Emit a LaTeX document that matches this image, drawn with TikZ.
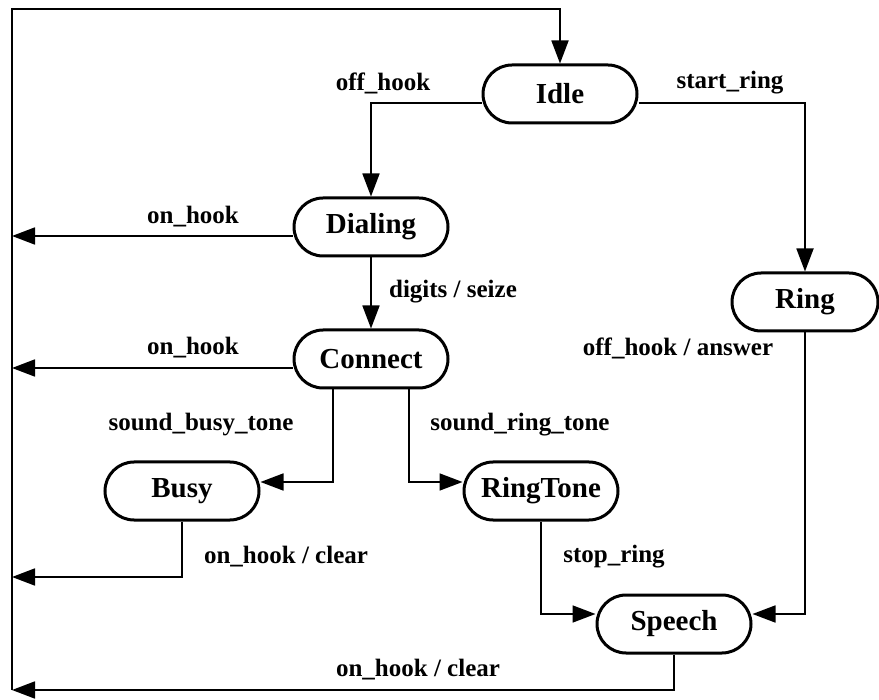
\documentclass[tikz,border=0pt]{standalone}
\usepackage{fontspec}
\setmainfont{Liberation Serif}
\usetikzlibrary{arrows.meta}
\tikzset{
  estado/.style={draw, line width=1.5pt, rounded corners=14.5pt, minimum width=77pt,
    minimum height=29pt, inner sep=0pt, font=\fontsize{14.5}{17}\selectfont\bfseries},
  trans/.style={line width=0.9pt, -{Triangle[length=11.5pt,width=8.5pt]}},
  etiq/.style={inner sep=0pt, font=\fontsize{12.5}{15}\selectfont\bfseries},
}
\begin{document}
\begin{tikzpicture}[x=0.5pt, y=-0.5pt]
  \useasboundingbox (0,0) rectangle (879,700);
  % los estados
  \node[estado] (idle) at (560,94) {Idle};
  \node[estado] (dialing) at (371,227) {Dialing};
  \node[estado, minimum width=73pt] (ring) at (805,302) {Ring};
  \node[estado] (connect) at (371,359) {Connect};
  \node[estado] (busy) at (182,491) {Busy};
  \node[estado] (ringtone) at (541,491) {RingTone};
  \node[estado] (speech) at (674,624) {Speech};
  % el bus de la izquierda, de vuelta a Idle
  \coordinate (busarriba) at (12,9);
  \coordinate (busabajo) at (12,690);
  \coordinate (bdial) at (12,236);
  \coordinate (bconn) at (12,368);
  \coordinate (bbusy) at (12,577);
  \draw[trans] (busabajo) -- (busarriba) -| (idle.north);
  % las transiciones
  \draw[trans] ([yshift=-4.5pt]idle.west) -| (dialing.north);
  \draw[trans] ([yshift=-4.5pt]idle.east) -| (ring.north);
  \draw[trans] (dialing.south) -- (connect.north);
  \draw[trans] ([yshift=-4.5pt]dialing.west) -- (bdial);
  \draw[trans] ([yshift=-4.5pt]connect.west) -- (bconn);
  \draw[trans] ([xshift=-19pt]connect.south) |- ([yshift=4.5pt]busy.east);
  \draw[trans] ([xshift=19pt]connect.south) |- ([yshift=4.5pt]ringtone.west);
  \draw[trans] (busy.south) |- (bbusy);
  \draw[trans] (ringtone.south) |- ([yshift=5pt]speech.west);
  \draw[trans] (ring.south) |- ([yshift=5pt]speech.east);
  \draw[trans] (speech.south) |- (busabajo);
  % las etiquetas
  \node[etiq] (l1) at (383,83) {off\_hook};
  \node[etiq] (l2) at (730,83) {start\_ring};
  \node[etiq] (l3) at (193,217) {on\_hook};
  \node[etiq] (l4) at (453,292) {digits / seize};
  \node[etiq] (l5) at (678,348) {off\_hook / answer};
  \node[etiq] (l6) at (193,348) {on\_hook};
  \node[etiq] (l7) at (201,425) {sound\_busy\_tone};
  \node[etiq] (l8) at (520,425) {sound\_ring\_tone};
  \node[etiq] (l9) at (286,557) {on\_hook / clear};
  \node[etiq] (l10) at (614,557) {stop\_ring};
  \node[etiq] (l11) at (418,670) {on\_hook / clear};
\end{tikzpicture}
\end{document}
